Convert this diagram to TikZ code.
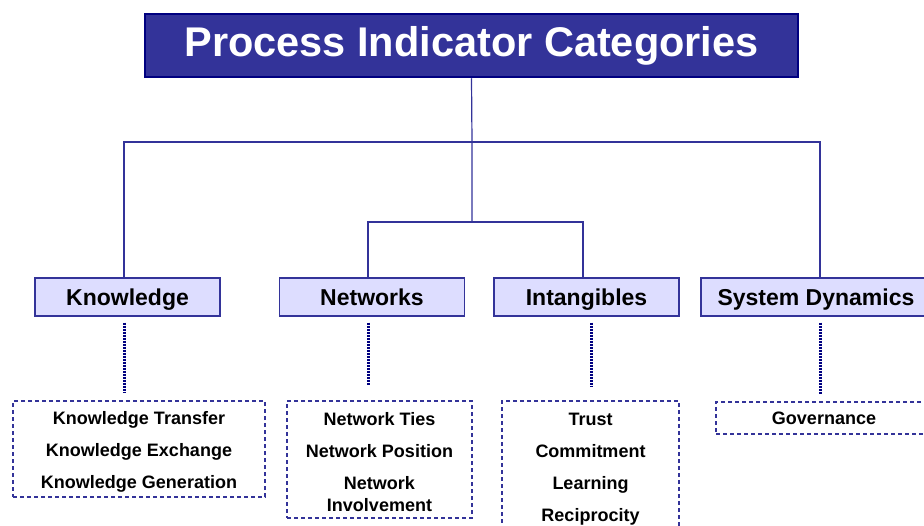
\documentclass[tikz,border=0pt]{standalone}
\usepackage{fontspec}
\setmainfont{Liberation Sans}
\usepackage{tikz}

\definecolor{titleblue}{RGB}{51,51,153}
\definecolor{darknavy}{RGB}{0,0,128}
\definecolor{lavender}{RGB}{221,221,255}

\newcommand{\topstrut}{\rule{0pt}{19pt}}

\tikzset{
  titlebox/.style={draw=darknavy, line width=2.5pt, fill=titleblue, text=white,
    minimum width=653pt, minimum height=63pt, inner sep=0pt,
    font=\fontsize{41.5}{45}\selectfont\bfseries},
  catbox/.style={draw=titleblue, line width=1.3pt, fill=lavender, text=black,
    minimum width=185pt, minimum height=38pt, inner sep=0pt,
    text height=22pt, text depth=4.6pt,
    font=\fontsize{23}{26}\selectfont\bfseries},
  itembox/.style={draw=titleblue, line width=1.2pt, dash pattern=on 4pt off 3pt,
    align=center, inner sep=0pt, font=\fontsize{18}{22}\selectfont\bfseries},
  link/.style={draw=titleblue, line width=1.2pt},
  beads/.style={draw=darknavy, line width=3pt, dash pattern=on 2pt off 1pt}
}

\begin{document}
\begin{tikzpicture}[x=1pt, y=-1pt]
  \clip (0,0) rectangle (924,525);

  % Title
  \node[titlebox] (title) at (471.5,45.5) {Process Indicator Categories};

  % Categories
  \node[catbox] (know) at (127.5,297) {Knowledge};
  \node[catbox] (netw) at (372,297) {Networks};
  \node[catbox] (intg) at (586.5,297) {Intangibles};
  \node[catbox, minimum width=230pt] (sysd) at (816,297) {System Dynamics};

  % Indicators
  \node[itembox, minimum width=252pt, minimum height=96pt] (knowitems) at (139,449)
    {\topstrut Knowledge Transfer\\[10pt] Knowledge Exchange\\[10pt] Knowledge Generation};
  \node[itembox, minimum width=185pt, minimum height=117pt] (netwitems) at (379.5,459.5)
    {\topstrut Network Ties\\[10pt] Network Position\\[10pt] Network\\ Involvement};
  \node[itembox, minimum width=177pt, minimum height=130pt] (intgitems) at (590.5,466)
    {\topstrut Trust\\[10pt] Commitment\\[10pt] Learning\\[10pt] Reciprocity};
  \node[itembox, minimum width=216pt, minimum height=32pt] (sysditems) at (824,418)
    {Governance};

  % Tree connectors
  \coordinate (hub) at (472,142);
  \coordinate (fork) at (472,222);
  \coordinate (kx) at (124,0);
  \coordinate (nx) at (368,0);
  \coordinate (ix) at (583,0);
  \coordinate (sx) at (820,0);
  \coordinate (iy) at (591,0);
  \draw[link] (title.south) -- (hub) -- (fork);
  \draw[link] (know.north -| kx) |- (hub) -| (sysd.north -| sx);
  \draw[link] (netw.north -| nx) |- (fork) -| (intg.north -| ix);

  % Dotted links to indicators
  \draw[beads] ([yshift=-6pt]know.south -| kx) -- ([yshift=7pt]knowitems.north -| kx);
  \draw[beads] ([yshift=-6pt]netw.south -| nx) -- ([yshift=15pt]netwitems.north -| nx);
  \draw[beads] ([yshift=-6pt]intg.south -| iy) -- ([yshift=14pt]intgitems.north -| iy);
  \draw[beads] ([yshift=-6pt]sysd.south -| sx) -- ([yshift=7pt]sysditems.north -| sx);
\end{tikzpicture}
\end{document}
